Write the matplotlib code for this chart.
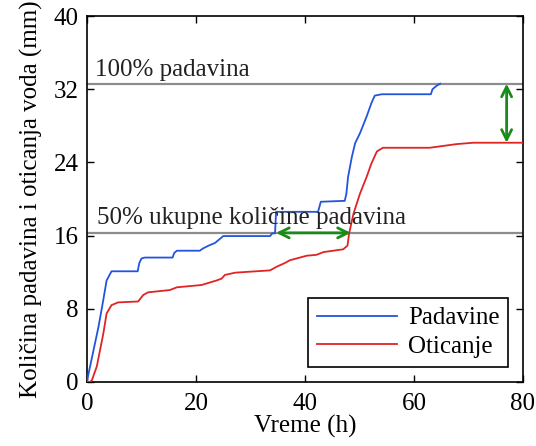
import matplotlib
matplotlib.use("Agg")
import matplotlib.pyplot as plt

plt.rcParams['font.family'] = ['Liberation Serif', 'DejaVu Serif']

# Data
rain_t = [0, 0.1, 2.1, 3.0, 3.6, 4.5, 9.3, 9.6, 10.0, 10.6, 15.7, 16.0, 16.5, 20.7, 21.3,
          22.3, 23.5, 24.7, 25.0, 33.6, 34.0, 34.5, 34.7, 42.4, 42.9, 47.3, 47.6, 47.9,
          48.6, 49.2, 50.1, 51.3, 52.2, 52.8, 54.1, 63.1, 63.4, 64.2, 64.8]
rain_v = [0, 0.4, 6.0, 9.0, 11.1, 12.1, 12.1, 13.0, 13.5, 13.6, 13.6, 14.1, 14.35, 14.35, 14.6,
          14.9, 15.2, 15.8, 15.95, 15.95, 16.25, 16.25, 18.6, 18.6, 19.7, 19.8, 20.6, 22.4,
          24.6, 26.1, 27.2, 29.0, 30.5, 31.3, 31.45, 31.45, 32.0, 32.4, 32.6]

runoff_t = [0, 0.5, 0.9, 1.8, 2.4, 3.0, 3.6, 4.5, 5.7, 9.4, 10.3, 11.2, 15.2, 16.5, 21.0, 23.8,
            24.7, 25.3, 27.2, 33.6, 34.8, 36.3, 37.2, 40.3, 42.1, 43.4, 47.0, 47.8, 48.1,
            48.9, 50.1, 51.3, 52.2, 53.2, 54.3, 57.4, 62.9, 67.8, 70.9, 80]
runoff_v = [0, 0.0, 0.2, 1.7, 3.5, 5.3, 7.5, 8.4, 8.7, 8.8, 9.5, 9.8, 10.05, 10.35, 10.6, 11.1,
            11.3, 11.7, 11.95, 12.2, 12.6, 13.0, 13.3, 13.8, 13.9, 14.2, 14.5, 14.9, 16.25,
            18.4, 20.6, 22.4, 23.9, 25.2, 25.6, 25.6, 25.6, 26.0, 26.15, 26.15]

total_rain = 32.6
half_rain = 16.3
half_t_rain = 34.7
half_t_runoff = 48.4
final_runoff = 26.15
gap_t = 77.0

x_ticks = [0, 20, 40, 60, 80]
y_ticks = [0, 8, 16, 24, 32, 40]

fig = plt.figure(figsize=(5.36, 4.46), dpi=100)
ax = fig.add_axes([0.1623, 0.1435, 0.8134, 0.8206])

ax.axhline(total_rain, color='#8c8c8c', lw=1.6, zorder=1)
ax.axhline(half_rain, color='#8c8c8c', lw=1.6, zorder=1)

ax.plot(rain_t, rain_v, color='#2255dd', lw=1.3, label='Padavine', zorder=3)
ax.plot(runoff_t, runoff_v, color='#e02424', lw=1.3, label='Oticanje', zorder=3)

green = '#1a8a1a'
ax.annotate('', xy=(half_t_rain, half_rain), xytext=(half_t_runoff, half_rain),
            arrowprops=dict(arrowstyle='<->', color=green, lw=2, mutation_scale=18,
                            shrinkA=0, shrinkB=0), zorder=4)
ax.annotate('', xy=(gap_t, total_rain), xytext=(gap_t, final_runoff),
            arrowprops=dict(arrowstyle='<->', color=green, lw=2, mutation_scale=18,
                            shrinkA=0, shrinkB=0), zorder=4)

ax.text(1.5, 33.4, '100% padavina', fontsize=18, va='baseline', ha='left', color='#222222')
ax.text(1.8, 17.3, '50% ukupne količine padavina', fontsize=18, va='baseline', ha='left',
        color='#222222')

ax.set_xlim(0, 80)
ax.set_ylim(0, 40)
ax.set_xticks(x_ticks)
ax.set_yticks(y_ticks)
ax.tick_params(direction='in', length=5, width=1, top=True, right=True, labelsize=18)
ax.tick_params(axis='x', pad=8)
ax.tick_params(axis='y', pad=6)
ax.set_xlabel('Vreme (h)', fontsize=18, labelpad=0)
ax.set_ylabel('Količina padavina i oticanja voda (mm)', fontsize=18, labelpad=8)
for s in ax.spines.values():
    s.set_linewidth(1.2)

leg = ax.legend(loc='lower right', bbox_to_anchor=(0.966, 0.041), fontsize=18,
                fancybox=False, edgecolor='black', framealpha=1, handlelength=3.2,
                handletextpad=0.45, borderpad=0.35, labelspacing=0.25, borderaxespad=0)
leg.get_frame().set_linewidth(1.2)

fig.savefig('out.png', dpi=100)
